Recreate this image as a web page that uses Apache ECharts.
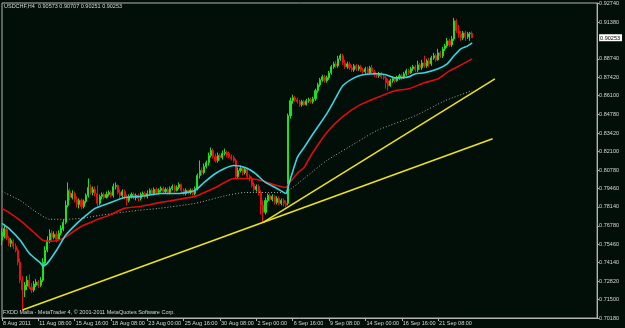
<!DOCTYPE html>
<html><head><meta charset="utf-8">
<script src="https://cdn.jsdelivr.net/npm/echarts@6/dist/echarts.min.js"></script>
<style>html,body{margin:0;padding:0;background:#020f08;}#c{width:625px;height:328px;}</style>
</head><body><div id="c"></div>
<script>
const symbolName = 'USDCHF,H4';
const footerText = 'FXDD Malta - MetaTrader 4, \u00A9 2001-2011 MetaQuotes Software Corp.';
const barCount = 263; // visible bar slots incl. right shift
const xTickEvery = 16;
const xTickLabels = ['8 Aug 2011','11 Aug 08:00','15 Aug 16:00','18 Aug 08:00','23 Aug 00:00','25 Aug 16:00','30 Aug 08:00','2 Sep 00:00','6 Sep 16:00','9 Sep 08:00','14 Sep 00:00','16 Sep 16:00','21 Sep 08:00'];
const yTickValues = [0.92740,0.91380,0.88740,0.87420,0.86100,0.84780,0.83420,0.82100,0.80780,0.79460,0.78140,0.76780,0.75460,0.74140,0.72820,0.71500,0.70180];
const yMin = 0.70180, yMax = 0.92740;
// [open, close, low, high]
const candles = [
[0.7575,0.7632,0.7539,0.7660],[0.7603,0.7660,0.7589,0.7682],[0.7653,0.7589,0.7575,0.7675],[0.7589,0.7553,0.7532,0.7603],
[0.7553,0.7575,0.7525,0.7589],[0.7568,0.7532,0.7511,0.7582],[0.7532,0.7503,0.7489,0.7553],[0.7503,0.7418,0.7396,0.7518],
[0.7418,0.7289,0.7268,0.7446],[0.7289,0.7218,0.7075,0.7318],[0.7218,0.7253,0.7168,0.7275],[0.7246,0.7289,0.7218,0.7318],
[0.7289,0.7239,0.7225,0.7332],[0.7239,0.7218,0.7196,0.7268],[0.7218,0.7261,0.7203,0.7282],[0.7253,0.7275,0.7239,0.7296],
[0.7275,0.7253,0.7232,0.7289],[0.7253,0.7289,0.7239,0.7311],[0.7289,0.7418,0.7275,0.7446],[0.7411,0.7503,0.7389,0.7532],
[0.7503,0.7575,0.7489,0.7603],[0.7575,0.7625,0.7553,0.7653],[0.7625,0.7596,0.7568,0.7646],[0.7596,0.7618,0.7582,0.7639],
[0.7618,0.7582,0.7560,0.7639],[0.7582,0.7625,0.7575,0.7646],[0.7625,0.7660,0.7610,0.7682],[0.7653,0.7703,0.7639,0.7725],
[0.7703,0.7825,0.7689,0.7860],[0.7825,0.7932,0.7810,0.7989],[0.7924,0.7881,0.7860,0.7946],[0.7881,0.7910,0.7867,0.7932],
[0.7910,0.7867,0.7846,0.7924],[0.7867,0.7831,0.7810,0.7889],[0.7831,0.7860,0.7803,0.7874],[0.7860,0.7817,0.7796,0.7874],
[0.7817,0.7853,0.7803,0.7867],[0.7853,0.7896,0.7839,0.7910],[0.7896,0.7953,0.7881,0.8017],[0.7953,0.7917,0.7903,0.7974],
[0.7917,0.7939,0.7896,0.7960],[0.7939,0.7910,0.7889,0.7960],[0.7910,0.7839,0.7817,0.7967],[0.7839,0.7889,0.7825,0.7903],
[0.7889,0.7903,0.7867,0.7917],[0.7903,0.7881,0.7867,0.7917],[0.7881,0.7903,0.7874,0.7924],[0.7903,0.7917,0.7889,0.7932],
[0.7917,0.7896,0.7881,0.7932],[0.7896,0.7960,0.7881,0.7981],[0.7960,0.7967,0.7939,0.7989],[0.7967,0.7917,0.7903,0.7974],
[0.7917,0.7896,0.7874,0.7939],[0.7896,0.7924,0.7881,0.7939],[0.7924,0.7889,0.7867,0.7939],[0.7889,0.7860,0.7825,0.7903],
[0.7860,0.7889,0.7846,0.7903],[0.7889,0.7903,0.7874,0.7917],[0.7903,0.7881,0.7867,0.7917],[0.7881,0.7896,0.7860,0.7910],
[0.7896,0.7874,0.7853,0.7910],[0.7874,0.7903,0.7860,0.7917],[0.7903,0.7910,0.7889,0.7924],[0.7910,0.7889,0.7874,0.7924],
[0.7889,0.7910,0.7874,0.7932],[0.7910,0.7932,0.7896,0.7946],[0.7932,0.7910,0.7896,0.7946],[0.7910,0.7939,0.7896,0.7953],
[0.7939,0.7917,0.7903,0.7953],[0.7917,0.7932,0.7903,0.7946],[0.7932,0.7946,0.7917,0.7960],[0.7946,0.7924,0.7910,0.7960],
[0.7924,0.7939,0.7910,0.7953],[0.7939,0.7917,0.7903,0.7953],[0.7917,0.7946,0.7903,0.7960],[0.7946,0.7960,0.7932,0.7974],
[0.7960,0.7932,0.7917,0.7974],[0.7932,0.7953,0.7924,0.7967],[0.7953,0.7974,0.7939,0.7989],[0.7974,0.7932,0.7917,0.7981],
[0.7932,0.7910,0.7896,0.7946],[0.7910,0.7932,0.7896,0.7946],[0.7932,0.7917,0.7903,0.7939],[0.7917,0.7932,0.7903,0.7946],
[0.7932,0.7910,0.7896,0.7946],[0.7910,0.7946,0.7896,0.7960],[0.7946,0.8039,0.7932,0.8053],[0.8039,0.8074,0.8017,0.8146],
[0.8074,0.8060,0.8039,0.8096],[0.8060,0.8103,0.8046,0.8124],[0.8103,0.8131,0.8089,0.8146],[0.8131,0.8182,0.8110,0.8203],
[0.8182,0.8217,0.8167,0.8239],[0.8217,0.8174,0.8160,0.8231],[0.8174,0.8146,0.8131,0.8196],[0.8146,0.8182,0.8131,0.8203],
[0.8182,0.8167,0.8146,0.8196],[0.8167,0.8196,0.8153,0.8217],[0.8196,0.8203,0.8182,0.8231],[0.8203,0.8182,0.8167,0.8217],
[0.8196,0.8174,0.8160,0.8210],[0.8174,0.8160,0.8146,0.8189],[0.8167,0.8146,0.8131,0.8182],[0.8146,0.8031,0.8017,0.8160],
[0.8031,0.8074,0.8017,0.8096],[0.8074,0.8089,0.8060,0.8110],[0.8089,0.8060,0.8039,0.8103],[0.8060,0.8081,0.8046,0.8096],
[0.8081,0.8031,0.8017,0.8096],[0.8031,0.8017,0.7996,0.8046],[0.8017,0.7967,0.7953,0.8031],[0.7974,0.7939,0.7924,0.7989],
[0.7939,0.7960,0.7924,0.7974],[0.7960,0.7917,0.7896,0.7974],[0.7917,0.7825,0.7760,0.7932],[0.7825,0.7775,0.7703,0.7860],
[0.7775,0.7860,0.7760,0.7881],[0.7860,0.7896,0.7846,0.7910],[0.7896,0.7867,0.7853,0.7910],[0.7867,0.7889,0.7853,0.7903],
[0.7889,0.7846,0.7831,0.7896],[0.7846,0.7874,0.7831,0.7889],[0.7874,0.7839,0.7825,0.7889],[0.7839,0.7860,0.7825,0.7874],
[0.7860,0.7839,0.7817,0.7874],[0.7839,0.7825,0.7810,0.7860],[0.7839,0.8467,0.7825,0.8482],[0.8467,0.8574,0.8446,0.8596],
[0.8574,0.8596,0.8553,0.8617],[0.8596,0.8581,0.8567,0.8610],[0.8581,0.8567,0.8553,0.8596],[0.8567,0.8546,0.8531,0.8581],
[0.8546,0.8567,0.8531,0.8581],[0.8567,0.8546,0.8539,0.8581],[0.8546,0.8574,0.8539,0.8588],[0.8574,0.8581,0.8560,0.8596],
[0.8581,0.8567,0.8553,0.8596],[0.8567,0.8588,0.8553,0.8603],[0.8588,0.8646,0.8574,0.8660],[0.8646,0.8688,0.8631,0.8703],
[0.8688,0.8724,0.8674,0.8738],[0.8724,0.8745,0.8710,0.8760],[0.8745,0.8717,0.8703,0.8760],[0.8717,0.8738,0.8703,0.8753],
[0.8738,0.8774,0.8724,0.8788],[0.8774,0.8817,0.8760,0.8831],[0.8817,0.8838,0.8803,0.8853],[0.8838,0.8824,0.8810,0.8860],
[0.8824,0.8874,0.8810,0.8896],[0.8874,0.8896,0.8860,0.8910],[0.8896,0.8845,0.8831,0.8910],[0.8845,0.8817,0.8803,0.8867],
[0.8817,0.8838,0.8803,0.8853],[0.8838,0.8810,0.8795,0.8853],[0.8810,0.8795,0.8781,0.8831],[0.8795,0.8824,0.8781,0.8838],
[0.8824,0.8803,0.8788,0.8838],[0.8803,0.8817,0.8788,0.8831],[0.8817,0.8795,0.8781,0.8831],[0.8795,0.8781,0.8767,0.8810],
[0.8781,0.8803,0.8767,0.8817],[0.8803,0.8774,0.8760,0.8817],[0.8774,0.8810,0.8760,0.8824],[0.8810,0.8781,0.8767,0.8831],
[0.8781,0.8760,0.8745,0.8795],[0.8760,0.8753,0.8738,0.8774],[0.8753,0.8767,0.8738,0.8781],[0.8767,0.8745,0.8731,0.8781],
[0.8745,0.8738,0.8724,0.8760],[0.8738,0.8703,0.8660,0.8753],[0.8717,0.8681,0.8646,0.8731],[0.8681,0.8717,0.8674,0.8731],
[0.8717,0.8731,0.8703,0.8745],[0.8731,0.8717,0.8703,0.8745],[0.8717,0.8738,0.8710,0.8753],[0.8738,0.8753,0.8724,0.8767],
[0.8753,0.8738,0.8724,0.8767],[0.8738,0.8767,0.8731,0.8781],[0.8767,0.8788,0.8753,0.8803],[0.8788,0.8774,0.8760,0.8803],
[0.8774,0.8803,0.8767,0.8817],[0.8803,0.8817,0.8788,0.8831],[0.8817,0.8795,0.8781,0.8831],[0.8795,0.8831,0.8781,0.8860],
[0.8831,0.8810,0.8795,0.8845],[0.8810,0.8845,0.8795,0.8867],[0.8845,0.8824,0.8810,0.8896],[0.8824,0.8860,0.8810,0.8874],
[0.8860,0.8838,0.8817,0.8881],[0.8838,0.8881,0.8824,0.8896],[0.8881,0.8896,0.8867,0.8917],[0.8896,0.8867,0.8853,0.8910],
[0.8867,0.8917,0.8860,0.8946],[0.8917,0.8896,0.8881,0.8931],[0.8896,0.8946,0.8881,0.8960],[0.8946,0.8967,0.8931,0.8981],
[0.8967,0.9003,0.8953,0.9024],[0.9003,0.8974,0.8960,0.9017],[0.8974,0.9017,0.8960,0.9038],[0.9017,0.9146,0.9003,0.9167],
[0.9146,0.9074,0.9060,0.9160],[0.9074,0.9053,0.9024,0.9117],[0.9053,0.9024,0.9003,0.9074],[0.9024,0.9060,0.9010,0.9074],
[0.9060,0.9031,0.9003,0.9074],[0.9031,0.9053,0.9017,0.9067],[0.9053,0.9057,0.9003,0.9067],[0.90573,0.90253,0.90251,0.90707]
];
// moving averages: [bar index, price]
const maFast = [[0,0.7696],[3,0.7660],[8,0.7575],[12,0.7482],[17,0.7411],[18,0.7389],[20,0.7411],[24,0.7503],[28,0.7610],[33,0.7696],[37,0.7753],[41,0.7803],[47,0.7839],[54,0.7881],[61,0.7889],[70,0.7910],[78,0.7910],[85,0.7932],[89,0.7989],[94,0.8053],[98,0.8089],[102,0.8110],[107,0.8096],[111,0.8060],[116,0.7989],[121,0.7946],[125,0.7910],[126,0.7960],[127,0.8017],[128,0.8067],[130,0.8167],[133,0.8239],[137,0.8339],[143,0.8482],[147,0.8596],[150,0.8681],[155,0.8738],[159,0.8760],[165,0.8767],[169,0.8760],[173,0.8738],[179,0.8745],[182,0.8767],[186,0.8774],[192,0.8803],[196,0.8838],[199,0.8896],[202,0.8946],[205,0.8967],[207,0.8988]];
const maMid = [[0,0.7803],[3,0.7775],[8,0.7717],[14,0.7632],[18,0.7575],[22,0.7568],[27,0.7589],[31,0.7632],[35,0.7675],[41,0.7717],[47,0.7753],[54,0.7803],[61,0.7817],[70,0.7846],[85,0.7889],[89,0.7917],[94,0.7953],[98,0.7989],[102,0.8017],[108,0.8017],[114,0.8003],[121,0.7967],[125,0.7953],[126,0.7974],[130,0.8053],[133,0.8096],[136,0.8182],[143,0.8346],[150,0.8460],[157,0.8539],[165,0.8596],[173,0.8646],[179,0.8660],[186,0.8703],[192,0.8731],[197,0.8788],[203,0.8838],[207,0.8874]];
const maSlow = [[0,0.7924],[8,0.7860],[14,0.7789],[21,0.7725],[28,0.7725],[35,0.7732],[43,0.7753],[50,0.7768],[60,0.7789],[69,0.7803],[85,0.7839],[99,0.7896],[107,0.7917],[121,0.7917],[125,0.7917],[127,0.7939],[133,0.8017],[143,0.8146],[156,0.8274],[165,0.8360],[182,0.8467],[195,0.8574],[207,0.8646]];
// trend lines: [bar index, price]
const trendLow = [[9,0.7075],[216,0.8301]];
const trendHigh = [[115,0.7703],[217,0.8731]];

const last = candles[candles.length - 1];
const currentPrice = last[1];
const fmt = v => v.toFixed(5);
const categories = Array.from({length: barCount}, (_, i) => String(i));
const font = 'Liberation Sans';
const txt = '#d8d8d8';
const fs = 5.5;

const chart = echarts.init(document.getElementById('c'), null, {renderer: 'canvas'});
chart.setOption({
  animation: false,
  backgroundColor: '#020f08',
  grid: {left: 2, right: 22, top: 2, bottom: 10, show: true, borderColor: '#b4b4b4', borderWidth: 1, backgroundColor: 'transparent'},
  xAxis: {
    type: 'category', data: categories, boundaryGap: false,
    axisLine: {show: true, lineStyle: {color: '#b4b4b4', width: 1}},
    axisTick: {show: true, length: 3, lineStyle: {color: '#b4b4b4'}, interval: (i) => i % xTickEvery === 0 && i / xTickEvery < xTickLabels.length},
    axisLabel: {
      interval: (i) => i % xTickEvery === 0 && i / xTickEvery < xTickLabels.length,
      formatter: (v, i) => xTickLabels[Math.round(Number(v) / xTickEvery)] || '',
      color: txt, fontSize: fs, fontFamily: font, align: 'left', margin: 2, padding: [0, 0, 0, 1]
    },
    splitLine: {show: false}
  },
  yAxis: {
    type: 'value', position: 'right', min: yMin, max: yMax, scale: true,
    axisLine: {show: true, lineStyle: {color: '#b4b4b4', width: 1}},
    axisTick: {show: true, length: 2, lineStyle: {color: '#b4b4b4'}, customValues: yTickValues},
    axisLabel: {
      customValues: yTickValues.concat([currentPrice]),
      formatter: v => Math.abs(v - currentPrice) < 1e-9 ? '{cur|' + fmt(v) + '}' : fmt(v),
      color: txt, fontSize: fs, fontFamily: font, margin: 2,
      rich: {cur: {backgroundColor: '#ffffff', color: '#000000', fontSize: fs, fontFamily: font, padding: [1, 2, 0, 1]}}
    },
    splitLine: {show: false}
  },
  graphic: [
    {type: 'text', left: 4, top: 3, silent: true, style: {text: symbolName + '  ' + [last[0], last[3], last[2], last[1]].map(fmt).join(' '), fill: txt, fontSize: fs, fontFamily: font}},
    {type: 'text', left: 3, top: 309, silent: true, style: {text: footerText, fill: txt, fontSize: fs, fontFamily: font}}
  ],
  series: [
    {type: 'candlestick', data: candles, barWidth: 1.6, z: 2,
      itemStyle: {color: '#1ee01e', color0: '#e81010', borderColor: '#1ee01e', borderColor0: '#e81010', borderWidth: 1}},
    {type: 'line', data: maSlow, showSymbol: false, z: 3, smooth: 0.2, lineStyle: {color: '#a8a8a8', width: 1, type: [1, 2]}},
    {type: 'line', data: maMid, showSymbol: false, z: 4, smooth: 0.2, lineStyle: {color: '#e00c0c', width: 1.6}},
    {type: 'line', data: maFast, showSymbol: false, z: 5, smooth: 0.2, lineStyle: {color: '#3cd3e3', width: 1.6}},
    {type: 'line', data: trendLow, showSymbol: false, z: 6, lineStyle: {color: '#ece21a', width: 1.6}},
    {type: 'line', data: trendHigh, showSymbol: false, z: 6, lineStyle: {color: '#ece21a', width: 1.6}}
  ]
});
</script></body></html>
